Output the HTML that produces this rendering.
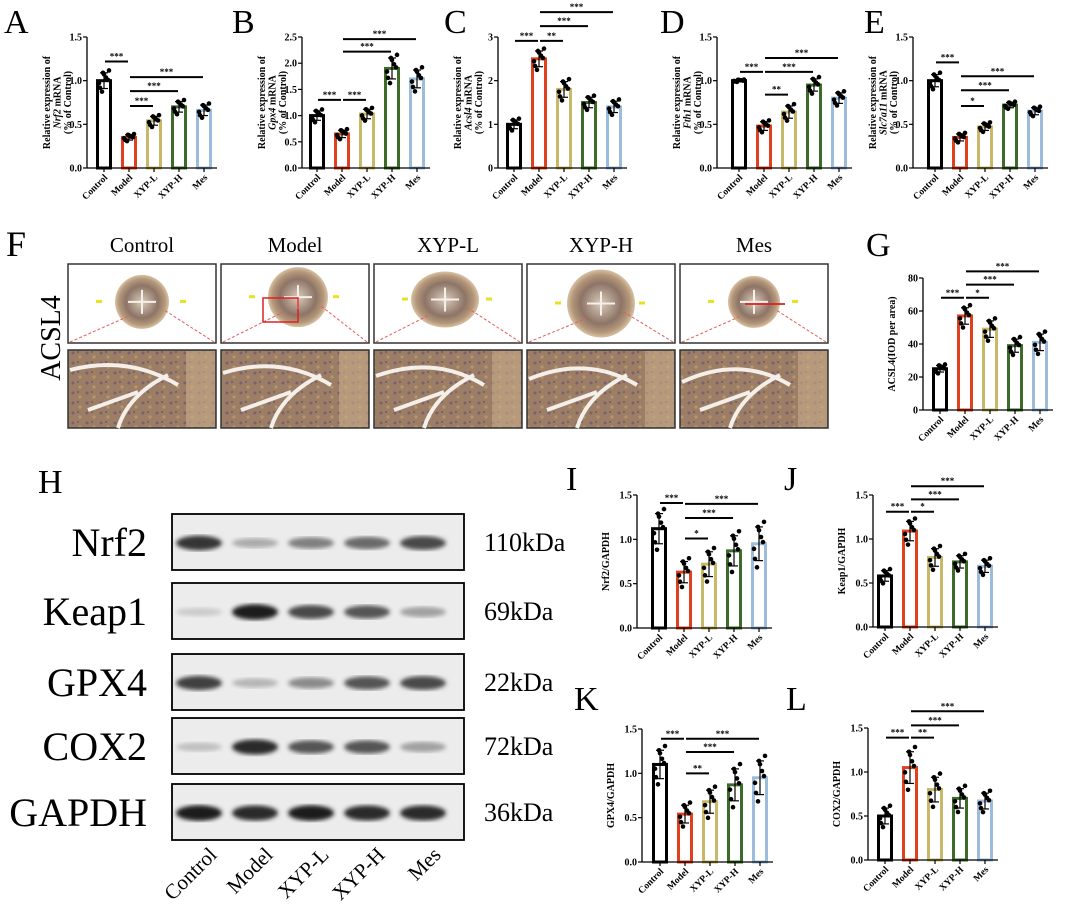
<!DOCTYPE html>
<html><head><meta charset="utf-8">
<style>
html,body{margin:0;padding:0;background:#fff;}
svg{display:block;font-family:"Liberation Serif",serif;}
</style></head>
<body>
<svg id="fig" width="1065" height="908" viewBox="0 0 1065 908" xmlns="http://www.w3.org/2000/svg">
<defs>
<filter id="blur2"><feGaussianBlur stdDeviation="2.2"/></filter>
<radialGradient id="tissue" cx="50%" cy="50%" r="50%">
<stop offset="0%" stop-color="#d9cbbb"/><stop offset="60%" stop-color="#8d7466"/><stop offset="85%" stop-color="#b4977a"/><stop offset="100%" stop-color="#d8c2a4"/>
</radialGradient>
<pattern id="tex" width="14" height="10" patternUnits="userSpaceOnUse">
<rect width="14" height="10" fill="#9c7e66"/><circle cx="3" cy="3" r="1.5" fill="#7a6070"/><circle cx="10" cy="7" r="1.6" fill="#b8946a"/><circle cx="8" cy="2" r="1" fill="#6d5a6a"/>
</pattern>
</defs>
<g id="panels"></g>
</svg>
<script>
const NS="http://www.w3.org/2000/svg";
const root=document.getElementById('panels');
function el(tag,attrs,parent,text){const e=document.createElementNS(NS,tag);for(const k in attrs)e.setAttribute(k,attrs[k]);if(text!==undefined)e.textContent=text;(parent||root).appendChild(e);return e;}

const groups=["Control","Model","XYP-L","XYP-H","Mes"];
const colors=["#000000","#e0401e","#c8b86a","#3d6b2a","#9dbcdb"];
const jitter=[-0.9,0.4,1.3,-0.3,0.8,-1.4,0.1,1.0];
const jx=[-4,2,5,-5,0,-2,4,-1];

// data arrays
const meansA=[1.0,0.35,0.54,0.70,0.66];const sdA=[0.09,0.03,0.05,0.06,0.06];
const meansB=[1.0,0.65,1.03,1.90,1.70];const sdB=[0.09,0.07,0.09,0.20,0.17];
const meansC=[1.0,2.50,1.80,1.50,1.40];const sdC=[0.10,0.18,0.18,0.12,0.13];
const meansD=[1.0,0.48,0.64,0.95,0.80];const sdD=[0.01,0.05,0.07,0.07,0.06];
const meansE=[1.0,0.35,0.47,0.72,0.65];const sdE=[0.07,0.04,0.04,0.03,0.04];
const meansG=[25,57,49,39,41];const sdG=[2,5,5,4,5];
const meansI=[1.12,0.63,0.72,0.87,0.95];const sdI=[0.17,0.12,0.14,0.17,0.19];
const meansJ=[0.58,1.09,0.79,0.74,0.69];const sdJ=[0.06,0.11,0.10,0.07,0.07];
const meansK=[1.10,0.54,0.68,0.87,0.95];const sdK=[0.16,0.10,0.13,0.18,0.19];
const meansL=[0.50,1.05,0.80,0.70,0.67];const sdL=[0.09,0.18,0.14,0.11,0.09];
const ticksA=[0,0.5,1.0,1.5];const ticksB=[0,0.5,1.0,1.5,2.0,2.5];const ticksC=[0,1,2,3];const ticksG=[0,20,40,60,80];
const sigA=[[0,1,"***",1.22],[1,2,"***",0.71],[1,3,"***",0.88],[1,4,"***",1.04]];
const sigB=[[0,1,"***",1.30],[1,2,"***",1.30],[1,3,"***",2.22],[1,4,"***",2.46]];
const sigC=[[0,1,"***",2.91],[1,2,"**",2.91],[1,3,"***",3.25],[1,4,"***",3.57]];
const sigD=[[0,1,"***",1.10],[1,2,"**",0.84],[1,3,"***",1.10],[1,4,"***",1.26]];
const sigE=[[0,1,"***",1.21],[1,2,"*",0.71],[1,3,"***",0.89],[1,4,"***",1.05]];
const sigG=[[0,1,"***",68],[1,2,"*",68],[1,3,"***",76],[1,4,"***",84]];
const sigI=[[0,1,"***",1.41],[1,2,"*",1.01],[1,3,"***",1.24],[1,4,"***",1.40]];
const sigJ=[[0,1,"***",1.31],[1,2,"*",1.31],[1,3,"***",1.45],[1,4,"***",1.60]];
const sigK=[[0,1,"***",1.39],[1,2,"**",1.00],[1,3,"***",1.24],[1,4,"***",1.39]];
const sigL=[[0,1,"***",1.39],[1,2,"**",1.39],[1,3,"***",1.53],[1,4,"***",1.69]];
const tickFmt1=v=>v.toFixed(1), tickFmt0=v=>String(v);

function chart(o){
  const g=el('g',{});
  
  
  const ymax=o.ticks[o.ticks.length-1];
  const y=v=>o.yBot-(v/ymax)*(o.yBot-o.yTop);
  const x=i=>o.x0+i*25;
  const xEnd=x(4)+13;
  o.means.forEach((m,i)=>{
    const b=el('rect',{x:x(i)-6.5,y:y(m),width:13,height:o.yBot-y(m),fill:'#fff',stroke:colors[i],'stroke-width':3},g);
    
    
  });
  o.means.forEach((m,i)=>{
    const s=o.sd[i];
    el('line',{x1:x(i),x2:x(i),y1:y(m-s),y2:y(m+s),stroke:'#000','stroke-width':1.2},g);
    el('line',{x1:x(i)-4,x2:x(i)+4,y1:y(m-s),y2:y(m-s),stroke:'#000','stroke-width':1.2},g);
    el('line',{x1:x(i)-4,x2:x(i)+4,y1:y(m+s),y2:y(m+s),stroke:'#000','stroke-width':1.2},g);
    jitter.forEach((j,k)=>{
      const d=el('circle',{cx:x(i)+jx[k],cy:y(m+j*s),r:2.3,fill:'#000'},g);
      
      
    });
  });
  const ax=el('line',{x1:o.ax,x2:o.ax,y1:o.yTop,y2:o.yBot,stroke:'#000','stroke-width':1.3},g);
  
  const xa=el('line',{x1:o.ax,x2:xEnd,y1:o.yBot,y2:o.yBot,stroke:'#000','stroke-width':1.3},g);
  
  o.ticks.forEach(t=>{
    el('line',{x1:o.ax-4,x2:o.ax,y1:y(t),y2:y(t),stroke:'#000','stroke-width':1.2},g);
    const tl=el('text',{x:o.ax-5,y:y(t)+3.5,'font-size':10,'font-weight':'bold','text-anchor':'end'},g,o.fmt(t));
    
  });
  groups.forEach((gname,i)=>{
    el('line',{x1:x(i),x2:x(i),y1:o.yBot,y2:o.yBot+4,stroke:'#000','stroke-width':1.2},g);
    const t=el('text',{x:x(i)+4,y:o.yBot+10,'font-size':9.5,'font-weight':'bold','text-anchor':'end',transform:`rotate(-45 ${x(i)+4} ${o.yBot+10})`},g,gname);
    
  });
  o.sig.forEach(s=>{
    const yy=y(s[3]);
    el('line',{x1:x(s[0])+1,x2:x(s[1])-1,y1:yy,y2:yy,stroke:'#000','stroke-width':2},g);
    const st=el('text',{x:(x(s[0])+x(s[1]))/2,y:yy-2,'font-size':9,'font-weight':'bold','text-anchor':'middle'},g,s[2]);
    
  });
  const cx=o.ax-28-(o.ylab.length-1)*4.5, cy=(o.yTop+o.yBot)/2;
  const yt=el('text',{x:cx,y:cy,'font-size':10,'font-weight':'bold','text-anchor':'middle',transform:`rotate(-90 ${cx} ${cy})`},g);
  
  o.ylab.forEach((line,li)=>{
    const ts=el('tspan',{x:cx,dy:li?10.5:0},yt);
    line.forEach(p=>{el('tspan',p[1]?{'font-style':'italic'}:{},ts,p[0]);});
  });
  const pl=el('text',{x:o.lx,y:o.ly,'font-size':34},g,o.letter);
  
}
function mlab(gene){return [[["Relative expression of",0]],[[gene,1],[" mRNA",0]],[["(% of Control)",0]]];}

chart({name:'chart-a',letter:'A',lx:4,ly:33,ax:87,x0:104,yTop:37,yBot:168,means:meansA,sd:sdA,ticks:ticksA,fmt:tickFmt1,sig:sigA,ylab:mlab('Nrf2')});
chart({name:'chart-b',letter:'B',lx:232,ly:33,ax:302,x0:317,yTop:37,yBot:168,means:meansB,sd:sdB,ticks:ticksB,fmt:tickFmt1,sig:sigB,ylab:mlab('Gpx4')});
chart({name:'chart-c',letter:'C',lx:444,ly:33,ax:498,x0:514,yTop:37,yBot:168,means:meansC,sd:sdC,ticks:ticksC,fmt:tickFmt0,sig:sigC,ylab:mlab('Acsl4')});
chart({name:'chart-d',letter:'D',lx:660,ly:33,ax:717,x0:739,yTop:37,yBot:168,means:meansD,sd:sdD,ticks:ticksA,fmt:tickFmt1,sig:sigD,ylab:mlab('Fth1')});
chart({name:'chart-e',letter:'E',lx:864,ly:33,ax:913,x0:935,yTop:37,yBot:168,means:meansE,sd:sdE,ticks:ticksA,fmt:tickFmt1,sig:sigE,ylab:mlab('Slc7a11')});
chart({name:'chart-g',letter:'G',lx:866,ly:256,ax:923,x0:940,yTop:278,yBot:410,means:meansG,sd:sdG,ticks:ticksG,fmt:tickFmt0,sig:sigG,ylab:[[["ACSL4(IOD per area)",0]]]});
chart({name:'chart-i',letter:'I',lx:566,ly:490,ax:637,x0:659,yTop:495,yBot:628,means:meansI,sd:sdI,ticks:ticksA,fmt:tickFmt1,sig:sigI,ylab:[[["Nrf2/GAPDH",0]]]});
chart({name:'chart-j',letter:'J',lx:784,ly:490,ax:873,x0:885,yTop:495,yBot:627,means:meansJ,sd:sdJ,ticks:ticksA,fmt:tickFmt1,sig:sigJ,ylab:[[["Keap1/GAPDH",0]]]});
chart({name:'chart-k',letter:'K',lx:574,ly:710,ax:642,x0:660,yTop:729,yBot:862,means:meansK,sd:sdK,ticks:ticksA,fmt:tickFmt1,sig:sigK,ylab:[[["GPX4/GAPDH",0]]]});
chart({name:'chart-l',letter:'L',lx:786,ly:710,ax:868,x0:885,yTop:728,yBot:860,means:meansL,sd:sdL,ticks:ticksA,fmt:tickFmt1,sig:sigL,ylab:[[["COX2/GAPDH",0]]]});

// Panel F
const fg=el('g',{});


const fl=el('text',{x:6,y:256,'font-size':36},fg,'F');

const al=el('text',{x:60,y:338,'font-size':28,'text-anchor':'middle',transform:'rotate(-90 60 338)'},fg,'ACSL4');

const colX=[68,221,374,527,680];
const tr=[[0.5,0.48,27],[0.52,0.42,30],[0.48,0.45,28],[0.5,0.5,34],[0.5,0.48,26]];
colX.forEach((cx0,i)=>{
  const h=el('text',{x:cx0+74,y:252,'font-size':21,'text-anchor':'middle'},fg,groups[i]);
  
  const top=el('rect',{x:cx0,y:264,width:148,height:79,fill:'#fff',stroke:'#333','stroke-width':1.5},fg);
  
  const ccx=cx0+148*tr[i][0], ccy=264+79*tr[i][1];
  el('ellipse',{cx:ccx,cy:ccy,rx:tr[i][2]+(i==2?6:0),ry:tr[i][2],fill:'url(#tissue)'},fg);
  el('path',{d:`M${ccx-14} ${ccy}L${ccx+14} ${ccy}M${ccx} ${ccy-12}L${ccx} ${ccy+12}`,stroke:'#f5f0ea','stroke-width':2},fg);
  el('line',{x1:cx0+2,y1:342,x2:ccx-15,y2:ccy+15,stroke:'#e85a5a','stroke-width':1,'stroke-dasharray':'3 2'},fg);
  el('line',{x1:cx0+146,y1:342,x2:ccx+22,y2:ccy+8,stroke:'#e85a5a','stroke-width':1,'stroke-dasharray':'3 2'},fg);
  el('rect',{x:cx0+28,y:ccy-2,width:6,height:3,fill:'#e8e020'},fg);
  el('rect',{x:cx0+112,y:ccy-2,width:6,height:3,fill:'#e8e020'},fg);
  const bot=el('rect',{x:cx0,y:350,width:148,height:78,fill:'url(#tex)',stroke:'#333','stroke-width':1.5},fg);
  
  el('path',{d:`M${cx0+2} ${370+i*3}Q${cx0+60} ${355} ${cx0+110} ${385}M${cx0+50} ${428}Q${cx0+60} ${395} ${cx0+100} ${375}M${cx0+20} ${410}L${cx0+70} ${392}`,stroke:'#f4efe8','stroke-width':4,fill:'none'},fg);
  el('rect',{x:cx0+118,y:351,width:29,height:76,fill:'#c9ab88',opacity:0.6},fg);
});
el('rect',{x:221+42,y:264+34,width:35,height:24,fill:'none',stroke:'#e02020','stroke-width':1.5},fg);
el('line',{x1:680+65,y1:304,x2:680+105,y2:304,stroke:'#e02020','stroke-width':1.8},fg);

// Panel H
const proteins=["Nrf2","Keap1","GPX4","COX2","GAPDH"];
const kda=["110kDa","69kDa","22kDa","72kDa","36kDa"];
const bandRows=[514,583,654,718,784];
const bandInt=[[0.85,0.3,0.5,0.6,0.75],[0.15,0.95,0.75,0.7,0.35],[0.8,0.25,0.45,0.7,0.75],[0.2,0.9,0.7,0.7,0.35],[0.95,0.9,0.95,0.9,0.9]];
const hg=el('g',{});


const hl=el('text',{x:38,y:493,'font-size':34},hg,'H');

proteins.forEach((p,r)=>{
  const y0=bandRows[r];
  const box=el('rect',{x:172,y:y0,width:292,height:56,fill:'#ececec',stroke:'#000','stroke-width':1.8},hg);
  
  bandInt[r].forEach((v,l)=>{
    const c=Math.round(235-215*v);
    el('ellipse',{cx:199+l*56,cy:y0+29,rx:23,ry:3.5+4.5*v,fill:`rgb(${c},${c},${c})`,filter:'url(#blur2)'},hg);
  });
  const t=el('text',{x:147,y:y0+42,'font-size':40,'text-anchor':'end'},hg,p);
  
  const k=el('text',{x:484,y:y0+37,'font-size':26},hg,kda[r]);
  
});
groups.forEach((gname,l)=>{
  const lx=218+l*56, ly=856;
  const t=el('text',{x:lx,y:ly,'font-size':21,'text-anchor':'end',transform:`rotate(-45 ${lx} ${ly})`},hg,gname);
  
});
</script>
</body></html>
